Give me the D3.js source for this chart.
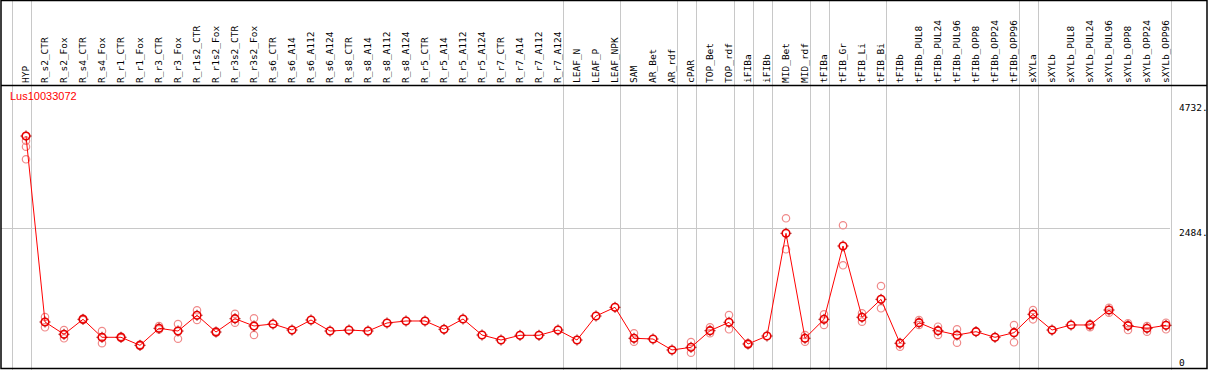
<!DOCTYPE html>
<html>
<head>
<meta charset="utf-8">
<script src="https://cdn.jsdelivr.net/npm/d3@7"></script>
<style>
  body { margin: 0; background: #fff; }
  svg { display: block; }
</style>
</head>
<body>
<svg id="chart" width="1209" height="370"></svg>
<script>
// Expression profile for one gene across sample types
const geneName = "Lus10033072";

const categories = [
  "HYP", "R_s2_CTR", "R_s2_Fox", "R_s4_CTR", "R_s4_Fox", "R_r1_CTR", "R_r1_Fox",
  "R_r3_CTR", "R_r3_Fox", "R_r1s2_CTR", "R_r1s2_Fox", "R_r3s2_CTR", "R_r3s2_Fox",
  "R_s6_CTR", "R_s6_A14", "R_s6_A112", "R_s6_A124", "R_s8_CTR", "R_s8_A14",
  "R_s8_A112", "R_s8_A124", "R_r5_CTR", "R_r5_A14", "R_r5_A112", "R_r5_A124",
  "R_r7_CTR", "R_r7_A14", "R_r7_A112", "R_r7_A124", "LEAF_N", "LEAF_P", "LEAF_NPK",
  "SAM", "AR_Bet", "AR_rdf", "cPAR", "TOP_Bet", "TOP_rdf", "iFIBa", "iFIBb",
  "MID_Bet", "MID_rdf", "tFIBa", "tFIB_Gr", "tFIB_Li", "tFIB_Bi", "tFIBb",
  "tFIBb_PUL8", "tFIBb_PUL24", "tFIBb_PUL96", "tFIBb_OPP8", "tFIBb_OPP24", "tFIBb_OPP96",
  "sXYLa", "sXYLb", "sXYLb_PUL8", "sXYLb_PUL24", "sXYLb_PUL96", "sXYLb_OPP8",
  "sXYLb_OPP24", "sXYLb_OPP96"
];

// main value per sample
const values = [
  4149, 794, 572, 842, 518, 518, 373, 680, 631, 915,
  613, 853, 722, 758, 649, 830, 631, 649, 631, 776,
  812, 812, 662, 848, 559, 469, 554, 554, 649, 469,
  902, 1059, 500, 487, 289, 337, 637, 788, 397, 541,
  2394, 500, 842, 2165, 879, 1203, 410, 781, 637, 559,
  619, 518, 601, 933, 649, 740, 740, 1010, 727, 680, 734
];

// individual replicates (pale circles)
const replicates = [
  [4149, 4065, 3956, 3729], [884, 698, 794], [649, 500, 572], [855, 830, 842],
  [631, 410, 518], [530, 505], [385, 362], [722, 660], [758, 492, 631], [1005, 830],
  [625, 600], [943, 781], [860, 559, 722], [], [], [], [], [], [], [],
  [], [], [], [], [], [], [], [], [], [],
  [], [], [590, 438], [], [], [433, 240], [698, 590], [920, 662], [410, 385], [],
  [2665, 2105], [559, 438], [933, 740], [2538, 1817], [951, 799], [1443, 1041], [348, 420], [830, 740], [709, 559], [662, 420],
  [], [], [740, 428], [1010, 842], [], [], [758, 698], [1052, 962], [770, 649], [722, 619], [781, 662]
];

// index of last sample in each group (-1 = line before the first one)
const groupEnds = [-1, 0, 28, 31, 34, 35, 37, 38, 39, 41, 42, 45, 52, 53, 60];

const yTicks = [0, 2484, 4732];
const yTickLabels = ["0", "2484.", "4732."];

const svg = d3.select("#chart");
const W = +svg.attr("width");
const H = +svg.attr("height");

const HEADER = 85.5;   // bottom of the label strip
const RIGHT = 1170;    // right edge of plotting area

const x = d3.scalePoint().domain(categories).range([26, 1166]);
const step = x.step();
const y = d3.scaleLinear().domain([0, 4732]).range([366, 103.7]);

const mono = "'DejaVu Sans Mono', monospace";

// horizontal grid line (middle tick only)
svg.append("g")
  .selectAll("line")
  .data(yTicks.filter(d => d > 0 && d < 4732))
  .join("line")
  .attr("x1", 1).attr("x2", RIGHT)
  .attr("y1", d => Math.round(y(d)) + 0.5).attr("y2", d => Math.round(y(d)) + 0.5)
  .attr("stroke", "#c8c8c8");

// group separators run through the header too
svg.append("g")
  .selectAll("line")
  .data(groupEnds)
  .join("line")
  .attr("x1", d => Math.round(x(categories[0]) + d * step + 4.5) + 0.5)
  .attr("x2", d => Math.round(x(categories[0]) + d * step + 4.5) + 0.5)
  .attr("y1", 0).attr("y2", H)
  .attr("stroke", "#c8c8c8");

// sample labels, rotated
svg.append("g")
  .selectAll("text")
  .data(categories)
  .join("text")
  .attr("transform", d => `translate(${x(d) + 3},83) rotate(-90)`)
  .attr("font-family", mono)
  .attr("font-size", 9.5)
  .attr("fill", "#000")
  .text(d => d);

// frame + header separator
svg.append("rect")
  .attr("x", 1).attr("y", 0.5).attr("width", W - 3).attr("height", H - 2)
  .attr("fill", "none").attr("stroke", "#000").attr("stroke-width", 1.5);
svg.append("line")
  .attr("x1", 1).attr("x2", W - 2).attr("y1", HEADER).attr("y2", HEADER)
  .attr("stroke", "#000").attr("stroke-width", 1.5);

// y tick labels on the right
svg.append("g")
  .selectAll("text")
  .data(yTicks)
  .join("text")
  .attr("x", 1179)
  .attr("y", d => d === 0 ? y(d) : y(d) + 7.5)
  .attr("font-family", mono)
  .attr("font-size", 9.5)
  .attr("fill", "#000")
  .text((d, i) => yTickLabels[i]);

// replicate circles
const repData = [];
replicates.forEach((r, i) => r.forEach(v => repData.push({ c: categories[i], v })));
svg.append("g")
  .selectAll("circle")
  .data(repData)
  .join("circle")
  .attr("cx", d => x(d.c))
  .attr("cy", d => y(d.v))
  .attr("r", 3.7)
  .attr("fill", "none")
  .attr("stroke", "#f08a8a")
  .attr("stroke-width", 1.2);

// profile line
const line = d3.line()
  .x((d, i) => x(categories[i]))
  .y(d => y(d));
svg.append("path")
  .datum(values)
  .attr("d", line)
  .attr("fill", "none")
  .attr("stroke", "#ff0000")
  .attr("stroke-width", 1);

// main markers
const marks = svg.append("g")
  .selectAll("g")
  .data(values)
  .join("g")
  .attr("transform", (d, i) => `translate(${x(categories[i])},${y(d)})`);
marks.append("circle")
  .attr("r", 3.8)
  .attr("fill", "none")
  .attr("stroke", "#e80000")
  .attr("stroke-width", 1.6);
marks.append("path")
  .attr("d", "M0,-5.5V-4.2M0,4.2V5.5M-5.5,0H-4.2M4.2,0H5.5")
  .attr("stroke", "#a00000")
  .attr("stroke-width", 1);

// gene name
svg.append("text")
  .attr("x", 10).attr("y", 100)
  .attr("font-family", "'Liberation Sans', Arial, sans-serif")
  .attr("font-size", 11)
  .attr("fill", "#ff0000")
  .text(geneName);
</script>
</body>
</html>
